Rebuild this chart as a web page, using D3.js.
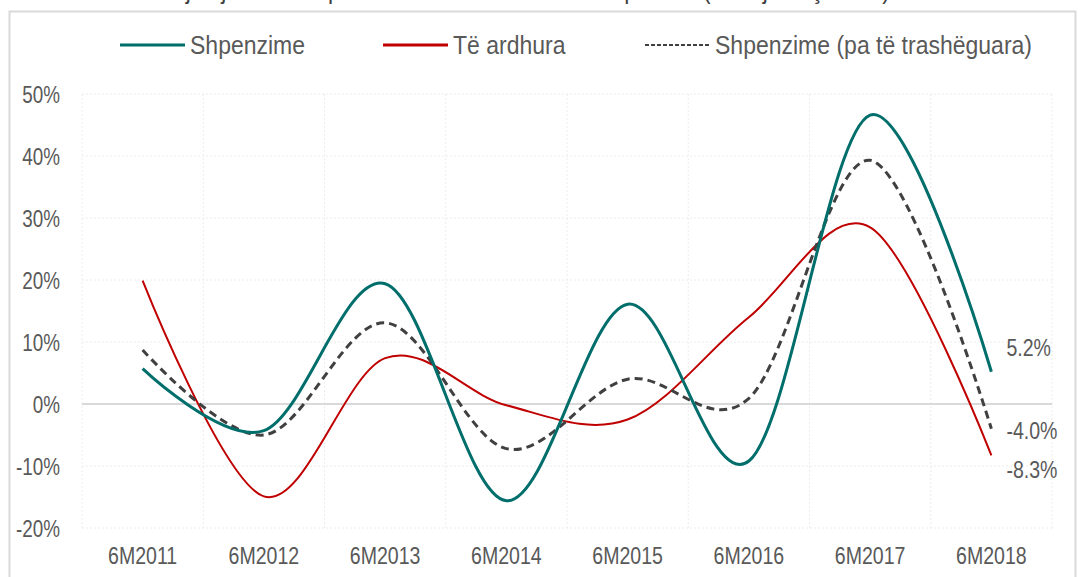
<!DOCTYPE html>
<html>
<head>
<meta charset="utf-8">
<script src="https://cdn.jsdelivr.net/npm/d3@7"></script>
<style>
  body { margin: 0; background: #fff; overflow: hidden; }
  svg text { font-family: "Liberation Sans", Arial, sans-serif; fill: #595959; }
</style>
</head>
<body>
<svg width="1081" height="577"></svg>
<script>
// data (in %)
const periods = ["6M2011", "6M2012", "6M2013", "6M2014", "6M2015", "6M2016", "6M2017", "6M2018"];
const shpenzime = [5.7, -4.3, 19.4, -15.6, 16.1, -9.2, 46.6, 5.2];
const teArdhura = [19.9, -14.9, 7.4, -0.2, -2.5, 14.0, 28.5, -8.3];
const paTrashEguara = [8.7, -5.0, 13.1, -7.2, 4.0, 0.9, 39.3, -4.0];
const yTicks = [-20, -10, 0, 10, 20, 30, 40, 50];
const seriesNames = ["Shpenzime", "Të ardhura", "Shpenzime (pa të trashëguara)"];

const svg = d3.select("svg"),
  width = +svg.attr("width"),
  height = +svg.attr("height");

// the chart font is a narrow one, squeeze the text horizontally
const NARROW = 0.85;
function narrowText(sel, x, y, k) {
  sel.attr("transform", `translate(${x},${y}) scale(${k || NARROW},1)`);
}

// title, mostly cut off at the top
svg.append("text")
  .call(narrowText, 520, -1, 0.88)
  .attr("text-anchor", "middle")
  .style("font-size", "26px")
  .style("fill", "#404040")
  .text("Rritja vjetore e shpenzimeve dhe të ardhurave publike (6-mujori i çdo viti)");

// frame
svg.append("rect")
  .attr("x", 9.5).attr("y", 11.5)
  .attr("width", 1066).attr("height", 620)
  .attr("fill", "#fff")
  .attr("stroke", "#d9d9d9")
  .attr("stroke-width", 2);

const margin = { left: 82, right: 1052, top: 94, bottom: 528 };

const x = d3.scaleBand()
  .domain(periods)
  .range([margin.left, margin.right]);

const y = d3.scaleLinear()
  .domain([-20, 50])
  .range([margin.bottom, margin.top]);

// horizontal grid
svg.append("g")
  .selectAll("line")
  .data(yTicks.filter(d => d !== 0))
  .enter().append("line")
  .attr("x1", margin.left).attr("x2", margin.right)
  .attr("y1", d => y(d)).attr("y2", d => y(d))
  .attr("stroke", "#ececec")
  .attr("stroke-dasharray", "2,2");

// vertical grid at category boundaries
const bounds = periods.map(p => x(p)).concat([margin.right]);
svg.append("g")
  .selectAll("line")
  .data(bounds)
  .enter().append("line")
  .attr("x1", d => d).attr("x2", d => d)
  .attr("y1", margin.top).attr("y2", margin.bottom)
  .attr("stroke", "#ececec")
  .attr("stroke-dasharray", "2,2");

// zero line
svg.append("line")
  .attr("x1", margin.left).attr("x2", margin.right)
  .attr("y1", y(0)).attr("y2", y(0))
  .attr("stroke", "#d9d9d9")
  .attr("stroke-width", 2);

// y labels
const yAxis = svg.append("g")
  .attr("transform", `translate(${margin.left - 22},0)`)
  .call(d3.axisLeft(y).tickValues(yTicks).tickFormat(d => d + "%").tickSize(0).tickPadding(0));
yAxis.select(".domain").remove();
yAxis.selectAll("text")
  .style("font-size", "23px")
  .attr("dy", "0.35em")
  .attr("transform", `scale(0.82,1)`);

// x labels
const xAxis = svg.append("g")
  .attr("transform", `translate(0,${margin.bottom + 28})`)
  .call(d3.axisBottom(x).tickSize(0).tickPadding(0));
xAxis.select(".domain").remove();
xAxis.selectAll("text")
  .style("font-size", "23px")
  .attr("y", 0)
  .attr("dy", "0.35em")
  .attr("transform", `scale(${NARROW},1)`);

const line = d3.line()
  .x((d, i) => x(periods[i]) + x.bandwidth() / 2)
  .y(d => y(d))
  .curve(d3.curveCardinal.tension(0));

const series = [
  { name: seriesNames[0], values: shpenzime, color: "#006E6B", w: 3, dash: null },
  { name: seriesNames[1], values: teArdhura, color: "#C00000", w: 2, dash: null },
  { name: seriesNames[2], values: paTrashEguara, color: "#404040", w: 3, dash: "8,5" }
];

svg.append("g")
  .selectAll("path")
  .data([series[1], series[2], series[0]])
  .enter().append("path")
  .attr("d", d => line(d.values))
  .attr("fill", "none")
  .attr("stroke", d => d.color)
  .attr("stroke-width", d => d.w)
  .attr("stroke-dasharray", d => d.dash);

// end labels
const lastX = x(periods[periods.length - 1]) + x.bandwidth() / 2;
const labelOffsets = [-24, 14, 2];
series.forEach((s, i) => {
  const v = s.values[s.values.length - 1];
  svg.append("text")
    .call(narrowText, lastX + 15, y(v) + labelOffsets[i])
    .attr("dy", "0.35em")
    .style("font-size", "23px")
    .text(v.toFixed(1) + "%");
});

// legend
const legendX = [120, 383, 645];
const legend = svg.append("g");
series.forEach((s, i) => {
  legend.append("line")
    .attr("x1", legendX[i]).attr("x2", legendX[i] + 65)
    .attr("y1", 45).attr("y2", 45)
    .attr("stroke", s.color)
    .attr("stroke-width", s.dash ? 2 : 3)
    .attr("stroke-dasharray", s.dash ? "4,2" : null);
  legend.append("text")
    .call(narrowText, legendX[i] + 70, 45, 0.92)
    .attr("dy", "0.35em")
    .style("font-size", "25px")
    .text(s.name);
});
</script>
</body>
</html>
